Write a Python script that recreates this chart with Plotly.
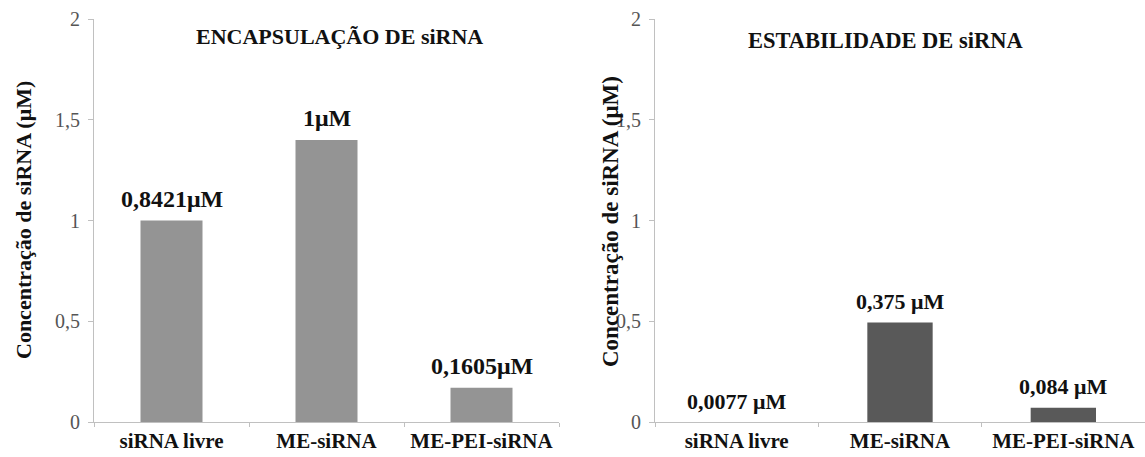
import plotly.graph_objects as go

categories = ["siRNA livre", "ME-siRNA", "ME-PEI-siRNA"]
encaps_values = [1.0, 1.40, 0.17]
encaps_labels = ["0,8421μM", "1μM", "0,1605μM"]
estab_values = [0.0, 0.494, 0.071]
estab_labels = ["0,0077 μM", "0,375 μM", "0,084 μM"]
y_ticks = [0, 0.5, 1, 1.5, 2]
y_ticktext = ["0", "0,5", "1", "1,5", "2"]

SERIF = "Liberation Serif"
W = 1145

fig = go.Figure()
fig.add_trace(go.Bar(
    x=categories, y=encaps_values,
    marker=dict(color="#949494", line=dict(width=0)),
    xaxis="x", yaxis="y", showlegend=False,
))
fig.add_trace(go.Bar(
    x=categories, y=estab_values,
    marker=dict(color="#595959", line=dict(width=0)),
    xaxis="x2", yaxis="y2", showlegend=False,
))

annotations = []
for c, v, t in zip(categories, encaps_values, encaps_labels):
    annotations.append(dict(x=c, y=v, xref="x", yref="y", text=t, showarrow=False,
                            xanchor="center", yanchor="middle", yshift=22,
                            font=dict(family=SERIF, size=24, color="#111", weight="bold")))
for c, v, t in zip(categories, estab_values, estab_labels):
    annotations.append(dict(x=c, y=v, xref="x2", yref="y2", text=t, showarrow=False,
                            xanchor="center", yanchor="middle", yshift=21,
                            font=dict(family=SERIF, size=22, color="#111", weight="bold")))

axis_common_y = dict(
    range=[0, 2], tickvals=y_ticks, ticktext=y_ticktext, showgrid=False,
    zeroline=False, showline=True, linecolor="#c0c0c0", linewidth=1,
    ticks="outside", ticklen=5, tickcolor="#c0c0c0",
    tickfont=dict(family=SERIF, size=20, color="#555"), ticklabelstandoff=4,
)
axis_common_x = dict(
    showgrid=False, zeroline=False, showline=True, linecolor="#c0c0c0", linewidth=1,
    ticks="outside", ticklen=4, tickcolor="#c0c0c0", tickson="boundaries",
    tickfont=dict(family=SERIF, size=21, color="#111", weight="bold"),
)

annotations += [
    dict(text="ENCAPSULAÇÃO DE siRNA", x=339/W, y=(422-37)/403, xref="paper", yref="paper",
         xanchor="center", yanchor="middle", showarrow=False,
         font=dict(family=SERIF, size=22, color="#111", weight="bold")),
    dict(text="ESTABILIDADE DE siRNA", x=885/W, y=(422-40)/403, xref="paper", yref="paper",
         xanchor="center", yanchor="middle", showarrow=False,
         font=dict(family=SERIF, size=22.5, color="#111", weight="bold")),
    dict(text="Concentração de siRNA (μM)", x=23/W, y=(422-220)/403, xref="paper", yref="paper",
         xanchor="center", yanchor="middle", textangle=-90, showarrow=False,
         font=dict(family=SERIF, size=22, color="#111", weight="bold")),
    dict(text="Concentração de siRNA (μM)", x=610/W, y=(422-222)/403, xref="paper", yref="paper",
         xanchor="center", yanchor="middle", textangle=-90, showarrow=False,
         font=dict(family=SERIF, size=23, color="#111", weight="bold")),
]

fig.update_layout(
    width=1145, height=457,
    margin=dict(l=0, r=0, t=19, b=35),
    paper_bgcolor="white", plot_bgcolor="white",
    font=dict(family=SERIF),
    bargap=0.6,
    xaxis=dict(domain=[94/W, 559/W], anchor="y", **axis_common_x),
    yaxis=dict(anchor="x", **axis_common_y),
    xaxis2=dict(domain=[655/W, 1.0], anchor="y2", **axis_common_x),
    yaxis2=dict(anchor="x2", **axis_common_y),
    annotations=annotations,
)

fig.write_html("out.html")
